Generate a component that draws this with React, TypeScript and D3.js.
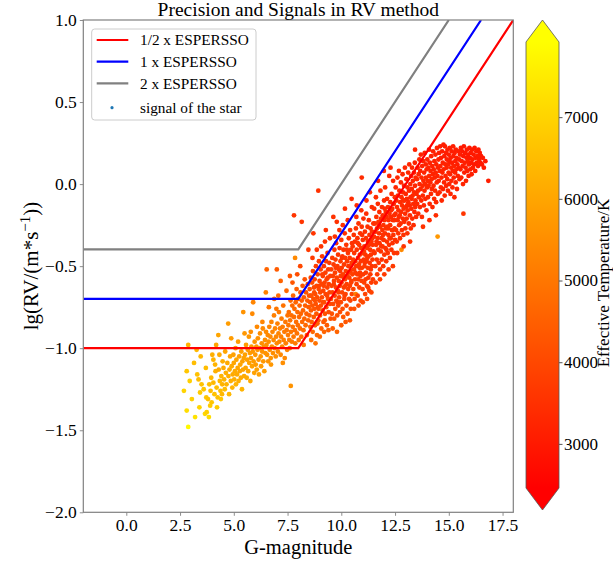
import { useEffect, useRef } from 'react';
import * as d3 from 'd3';

// [G magnitude, lg RV, effective temperature]
type Star = [number, number, number];
type Pt = [number, number];

const starsMag3: Star[] = [
  [2.68, -1.26, 7000], [2.81, -1.38, 7200], [2.88, -1.48, 7800], [2.81, -1.14, 6700], [2.88, -0.98, 6300],
  [3.27, -1.01, 6400], [3.30, -1.16, 6600], [3.36, -1.19, 6500], [3.50, -1.22, 6600], [3.43, -1.27, 6800],
  [3.05, -1.31, 6900], [3.20, -1.42, 7300], [3.40, -1.36, 7000], [2.95, -1.20, 6900], [3.15, -1.09, 6500],
  [3.46, -1.05, 6400],
];

const starsMag4: Star[] = [
  [3.72, -1.30, 6700], [3.80, -1.31, 6600], [3.66, -1.40, 7100], [3.74, -1.39, 6900], [3.90, -1.35, 6800],
  [3.97, -1.33, 6700], [4.00, -1.04, 6200], [4.05, -1.07, 6300], [4.13, -1.10, 6300], [4.28, -0.92, 6000],
  [4.35, -1.20, 6400], [4.42, -1.17, 6300], [4.48, -1.08, 6200], [4.20, -1.24, 6500], [4.10, -1.28, 6600],
  [3.86, -1.22, 6500], [3.95, -1.18, 6400], [4.25, -1.30, 6600], [4.38, -1.26, 6500], [4.46, -1.22, 6300],
  [3.60, -1.25, 6700], [3.70, -1.12, 6500], [4.15, -1.14, 6200], [4.30, -1.13, 6100], [4.05, -1.21, 6400],
  [4.40, -1.31, 6700], [3.84, -1.42, 7200], [4.22, -1.36, 6800], [4.33, -1.04, 6100], [4.18, -0.98, 6000],
  [4.45, -1.28, 6400], [3.92, -1.26, 6500],
];

const starsMag5: Star[] = [
  [4.52, -1.12, 6100], [4.55, -1.19, 6300], [4.58, -1.25, 6500], [4.60, -1.02, 6000], [4.63, -1.15, 6200],
  [4.66, -1.22, 6300], [4.70, -1.09, 6100], [4.74, -0.85, 5800], [4.75, -1.17, 6200], [4.78, -1.28, 6400],
  [4.80, -1.13, 6100], [4.83, -1.05, 6000], [4.86, -1.20, 6200], [4.88, -0.94, 5800], [4.90, -1.11, 6100],
  [4.93, -1.24, 6300], [4.95, -1.16, 6100], [4.98, -1.04, 5900], [5.00, -1.09, 6000], [5.02, -1.19, 6200],
  [5.05, -1.14, 6100], [5.08, -1.00, 5900], [5.10, -1.22, 6300], [5.12, -1.07, 6000], [5.15, -1.16, 6100],
  [5.18, -1.12, 6000], [5.20, -0.96, 5800], [5.22, -1.20, 6200], [5.25, -1.05, 5900], [5.28, -1.14, 6000],
  [5.30, -1.10, 6000], [5.33, -1.18, 6100], [5.35, -1.02, 5900], [5.38, -1.25, 6300], [5.40, -1.08, 5900],
  [5.43, -1.13, 6000], [5.44, -0.78, 5600], [5.46, -1.06, 5900], [5.48, -1.17, 6100], [5.50, -0.91, 5700],
];

const starsMag6: Star[] = [
  [5.52, -1.04, 5900], [5.55, -1.12, 6000], [5.57, -0.98, 5800], [5.60, -1.18, 6100], [5.62, -1.07, 5900],
  [5.65, -1.01, 5800], [5.67, -1.14, 6000], [5.70, -0.93, 5700], [5.72, -1.09, 5900], [5.75, -1.03, 5800],
  [5.77, -1.20, 6100], [5.80, -1.06, 5800], [5.82, -0.99, 5700], [5.85, -1.11, 5900], [5.86, -0.79, 5400],
  [5.88, -1.02, 5700], [5.90, -0.72, 5300], [5.92, -1.08, 5800], [5.95, -1.15, 5900], [5.97, -0.96, 5600],
  [6.00, -1.04, 5700], [6.02, -1.10, 5800], [6.05, -0.99, 5600], [6.07, -1.13, 5900], [6.10, -1.01, 5700],
  [6.12, -0.94, 5600], [6.15, -1.07, 5700], [6.17, -1.16, 5900], [6.20, -1.00, 5600], [6.22, -0.91, 5500],
  [6.25, -1.05, 5700], [6.27, -1.11, 5800], [6.30, -0.97, 5500], [6.32, -1.02, 5600], [6.35, -0.88, 5400],
  [6.37, -1.08, 5700], [6.40, -0.99, 5500], [6.42, -1.14, 5800], [6.45, -0.95, 5500], [6.47, -1.03, 5600],
  [6.49, -0.66, 5200], [6.50, -0.90, 5400], [6.33, -0.84, 5300], [6.08, -0.87, 5400], [5.79, -0.90, 5500],
];

const starsMag7: Star[] = [
  [6.52, -0.98, 5500], [6.53, -0.52, 4600], [6.55, -1.04, 5600], [6.58, -0.92, 5400], [6.60, -1.08, 5600],
  [6.62, -0.96, 5500], [6.65, -0.87, 5300], [6.67, -1.01, 5500], [6.70, -0.93, 5400], [6.72, -1.06, 5600],
  [6.75, -0.84, 5300], [6.77, -0.99, 5400], [6.80, -0.90, 5300], [6.82, -1.03, 5500], [6.85, -0.95, 5400],
  [6.87, -0.80, 5200], [6.90, -1.00, 5400], [6.92, -0.88, 5300], [6.95, -1.05, 5500], [6.97, -0.93, 5300],
  [7.00, -0.52, 4400], [7.00, -0.97, 5400], [7.03, -0.85, 5200], [7.05, -1.02, 5400], [7.08, -0.91, 5300],
  [7.10, -0.78, 5100], [7.12, -0.96, 5300], [7.15, -0.88, 5200], [7.18, -0.59, 4600], [7.18, -1.04, 5400],
  [7.20, -0.93, 5200], [7.22, -0.82, 5100], [7.25, -0.99, 5300], [7.27, -0.87, 5100], [7.30, -0.74, 4900],
  [7.32, -0.95, 5200], [7.35, -0.90, 5100], [7.37, -1.06, 5400], [7.40, -0.84, 5000], [7.42, -0.97, 5200],
  [7.45, -0.65, 4700], [7.46, -0.89, 5000], [7.48, -1.01, 5300], [7.50, -0.80, 4900], [6.63, -0.75, 5000],
  [6.88, -0.70, 4900], [7.07, -0.68, 4800], [6.73, -1.10, 5700], [7.28, -1.09, 5500], [6.98, -0.76, 5000],
];

const starsMag8: Star[] = [
  [7.52, -0.92, 5100], [7.54, -0.86, 5000], [7.56, -0.78, 4800], [7.58, -0.95, 5100], [7.61, -0.56, 4300],
  [7.62, -0.83, 4900], [7.64, -0.71, 4700], [7.65, -1.23, 5600], [7.66, -0.90, 5000], [7.68, -0.80, 4800],
  [7.70, -0.96, 5100], [7.72, -0.74, 4700], [7.74, -0.87, 4900], [7.76, -0.68, 4600], [7.78, -0.93, 5000],
  [7.80, -0.19, 3600], [7.80, -0.81, 4800], [7.82, -0.76, 4700], [7.84, -0.89, 4900], [7.85, -0.45, 5400],
  [7.86, -0.97, 5100], [7.88, -0.72, 4600], [7.90, -0.84, 4800], [7.92, -0.64, 4500], [7.94, -0.91, 4900],
  [7.96, -0.78, 4700], [7.98, -0.86, 4800], [8.00, -0.70, 4600], [8.02, -0.95, 5000], [8.04, -0.81, 4700],
  [8.06, -0.74, 4600], [8.08, -0.88, 4800], [8.10, -0.66, 4400], [8.12, -0.79, 4600], [8.14, -0.93, 4900],
  [8.16, -0.23, 3600], [8.16, -0.71, 4500], [8.18, -0.84, 4700], [8.20, -0.62, 4300], [8.22, -0.77, 4600],
  [8.24, -0.89, 4800], [8.26, -0.69, 4400], [8.28, -0.82, 4600], [8.30, -0.58, 4200], [8.32, -0.74, 4500],
  [8.34, -0.86, 4700], [8.36, -0.66, 4300], [8.38, -0.79, 4500], [8.40, -0.92, 4800], [8.42, -0.71, 4400],
  [8.44, -0.61, 4200], [8.46, -0.83, 4600], [8.47, -0.40, 3700], [8.48, -0.75, 4400], [8.50, -0.68, 4300],
  [7.73, -0.60, 4300], [7.95, -0.55, 4100], [8.09, -0.50, 4000], [7.60, -1.00, 5200], [8.25, -0.98, 5000],
];

const starsMag9: Star[] = [
  [8.52, -0.80, 4500], [8.53, -0.64, 4200], [8.55, -0.72, 4300], [8.56, -0.87, 4600], [8.58, -0.57, 4000],
  [8.59, -0.77, 4400], [8.61, -0.68, 4200], [8.62, -0.84, 4500], [8.64, -0.60, 4100], [8.65, -0.74, 4300],
  [8.67, -0.90, 4700], [8.68, -0.53, 3900], [8.70, -0.30, 3600], [8.70, -0.70, 4200], [8.72, -0.81, 4400],
  [8.73, -0.63, 4000], [8.75, -0.76, 4300], [8.76, -0.58, 3900], [8.78, -0.86, 4500], [8.79, -0.67, 4100],
  [8.81, -0.73, 4200], [8.82, -0.50, 3800], [8.84, -0.79, 4300], [8.85, -0.62, 4000], [8.87, -0.92, 4700],
  [8.88, -0.69, 4100], [8.90, -0.55, 3900], [8.91, -0.75, 4200], [8.93, -0.04, 3500], [8.93, -0.83, 4400],
  [8.95, -0.64, 4000], [8.96, -0.47, 3800], [8.98, -0.71, 4100], [8.99, -0.59, 3900], [9.01, -0.80, 4300],
  [9.02, -0.66, 4000], [9.04, -0.52, 3800], [9.05, -0.74, 4100], [9.07, -0.88, 4500], [9.08, -0.61, 3900],
  [9.10, -0.69, 4000], [9.11, -0.44, 3700], [9.13, -0.77, 4200], [9.14, -0.56, 3800], [9.16, -0.65, 3900],
  [9.17, -0.84, 4300], [9.19, -0.50, 3700], [9.20, -0.72, 4100], [9.22, -0.60, 3900], [9.24, -0.35, 3600],
  [9.24, -0.79, 4200], [9.26, -0.54, 3800], [9.27, -0.67, 3900], [9.29, -0.47, 3700], [9.30, -0.75, 4100],
  [9.32, -0.58, 3800], [9.33, -0.86, 4400], [9.35, -0.63, 3900], [9.36, -0.42, 3600], [9.38, -0.70, 4000],
  [9.39, -0.52, 3700], [9.41, -0.78, 4100], [9.42, -0.61, 3800], [9.44, -0.48, 3700], [9.45, -0.66, 3900],
  [9.47, -0.33, 3600], [9.47, -0.73, 4000], [9.49, -0.56, 3800], [9.50, -0.82, 4200], [8.60, -0.95, 4800],
  [8.80, -0.97, 4900], [9.00, -0.93, 4700], [9.20, -0.90, 4600], [9.40, -0.89, 4500], [8.66, -0.45, 3700],
  [8.86, -0.40, 3600], [9.06, -0.38, 3600], [9.28, -0.28, 3500], [8.74, -0.66, 4100], [8.94, -0.76, 4200],
  [9.15, -0.72, 4100], [9.34, -0.68, 3900], [8.57, -0.68, 4200], [8.77, -0.71, 4200], [8.97, -0.62, 3900],
  [9.18, -0.62, 3900], [9.37, -0.57, 3800], [9.12, -0.55, 3800], [8.89, -0.85, 4500], [9.23, -0.83, 4400],
];

const starsMag10: Star[] = [
  [9.52, -0.70, 4100], [9.53, -0.52, 3800], [9.55, -0.62, 3900], [9.56, -0.79, 4200], [9.58, -0.45, 3700],
  [9.59, -0.66, 3900], [9.61, -0.56, 3800], [9.62, -0.73, 4000], [9.63, -0.20, 3500], [9.64, -0.49, 3700],
  [9.65, -0.61, 3800], [9.67, -0.82, 4300], [9.68, -0.40, 3600], [9.69, -0.68, 3900], [9.71, -0.54, 3800],
  [9.72, -0.76, 4100], [9.73, -0.46, 3700], [9.75, -0.63, 3800], [9.76, -0.36, 3600], [9.77, -0.71, 4000],
  [9.79, -0.23, 3500], [9.79, -0.57, 3800], [9.81, -0.80, 4200], [9.82, -0.50, 3700], [9.84, -0.65, 3900],
  [9.85, -0.43, 3600], [9.86, -0.74, 4000], [9.88, -0.59, 3800], [9.89, -0.52, 3700], [9.90, -0.69, 3900],
  [9.92, -0.39, 3600], [9.93, -0.62, 3800], [9.94, -0.78, 4100], [9.96, -0.47, 3700], [9.97, -0.56, 3800],
  [9.98, -0.72, 4000], [10.00, -0.34, 3600], [10.01, -0.60, 3800], [10.02, -0.51, 3700], [10.04, -0.66, 3900],
  [10.05, -0.44, 3600], [10.06, -0.76, 4100], [10.08, -0.55, 3800], [10.09, -0.81, 4300], [10.10, -0.40, 3600],
  [10.12, -0.63, 3800], [10.13, -0.49, 3700], [10.14, -0.70, 3900], [10.16, -0.30, 3500], [10.17, -0.15, 3400],
  [10.17, -0.58, 3800], [10.18, -0.45, 3700], [10.20, -0.67, 3900], [10.21, -0.53, 3700], [10.23, -0.37, 3600],
  [10.24, -0.74, 4000], [10.25, -0.61, 3800], [10.27, -0.47, 3700], [10.28, -0.56, 3700], [10.29, -0.79, 4200],
  [10.31, -0.42, 3600], [10.32, -0.64, 3800], [10.33, -0.50, 3700], [10.35, -0.33, 3500], [10.36, -0.70, 3900],
  [10.37, -0.57, 3700], [10.39, -0.45, 3600], [10.40, -0.62, 3800], [10.41, -0.28, 3500], [10.43, -0.53, 3700],
  [10.44, -0.76, 4100], [10.45, -0.40, 3600], [10.47, -0.59, 3800], [10.48, -0.09, 3400], [10.48, -0.48, 3700],
  [10.49, -0.67, 3900], [10.50, -0.36, 3500], [9.60, -0.88, 4500], [9.80, -0.90, 4600], [10.00, -0.86, 4400],
  [10.20, -0.84, 4300], [10.40, -0.83, 4300], [9.66, -0.59, 3800], [9.74, -0.51, 3700], [9.87, -0.66, 3800],
  [9.95, -0.53, 3700], [10.03, -0.45, 3600], [10.11, -0.57, 3700], [10.19, -0.62, 3800], [10.26, -0.40, 3600],
  [10.34, -0.54, 3700], [10.42, -0.71, 3900], [10.46, -0.60, 3800], [9.70, -0.32, 3500], [9.91, -0.28, 3500],
  [10.07, -0.25, 3500], [10.30, -0.22, 3500], [9.83, -0.72, 3900], [10.15, -0.68, 3800], [10.38, -0.50, 3600],
];

const starsMag11: Star[] = [
  [10.52, -0.55, 3800], [10.53, -0.38, 3600], [10.55, -0.46, 3700], [10.56, -0.64, 3900], [10.58, -0.31, 3500],
  [10.59, -0.52, 3700], [10.60, -0.42, 3600], [10.62, -0.70, 4000], [10.63, -0.35, 3500], [10.64, -0.58, 3800],
  [10.65, -0.47, 3700], [10.67, -0.67, 5200], [10.68, -0.27, 3500], [10.69, -0.50, 3700], [10.71, -0.61, 3800],
  [10.72, -0.13, 3400], [10.72, -0.40, 3600], [10.74, -0.55, 3700], [10.75, -0.33, 3500], [10.76, -0.68, 3900],
  [10.78, -0.45, 3600], [10.79, -0.58, 3800], [10.80, -0.24, 3500], [10.82, -0.49, 3700], [10.83, -0.37, 3600],
  [10.84, -0.63, 3800], [10.86, -0.43, 3600], [10.87, -0.54, 3700], [10.88, -0.30, 3500], [10.90, -0.71, 4000],
  [10.91, -0.47, 3600], [10.92, -0.39, 3600], [10.94, -0.59, 3800], [10.95, 0.04, 3400], [10.95, -0.26, 3500],
  [10.96, -0.51, 3700], [10.98, -0.42, 3600], [10.99, -0.64, 3800], [11.00, -0.34, 3500], [11.02, -0.55, 3700],
  [11.03, -0.21, 3400], [11.04, -0.46, 3600], [11.06, -0.60, 3800], [11.07, -0.38, 3500], [11.08, -0.50, 3700],
  [11.10, -0.29, 3500], [11.11, -0.67, 3900], [11.12, -0.43, 3600], [11.14, -0.54, 3700], [11.15, -0.33, 3500],
  [11.16, -0.18, 3400], [11.18, -0.47, 3600], [11.19, -0.62, 3800], [11.20, -0.39, 3600], [11.22, -0.26, 3500],
  [11.23, -0.51, 3700], [11.24, -0.35, 3500], [11.26, -0.57, 3700], [11.27, -0.44, 3600], [11.28, -0.22, 3400],
  [11.30, -0.65, 3800], [11.31, -0.31, 3500], [11.32, -0.48, 3600], [11.34, -0.40, 3600], [11.35, -0.55, 3700],
  [11.36, -0.27, 3500], [11.38, -0.43, 3600], [11.39, -0.60, 3700], [11.40, -0.35, 3500], [11.42, -0.14, 3400],
  [11.42, -0.50, 3600], [11.43, -0.29, 3500], [11.45, -0.46, 3600], [11.46, -0.37, 3500], [11.47, -0.58, 3700],
  [11.49, -0.24, 3500], [11.50, -0.41, 3600], [10.60, -0.76, 4200], [10.80, -0.74, 4100], [11.00, -0.72, 4000],
  [11.20, -0.70, 4000], [11.40, -0.66, 3900], [10.66, -0.54, 3700], [10.77, -0.36, 3600], [10.85, -0.51, 3700],
  [10.97, -0.31, 3500], [11.05, -0.41, 3600], [11.13, -0.58, 3700], [11.21, -0.45, 3600], [11.29, -0.37, 3500],
  [11.37, -0.52, 3600], [11.44, -0.33, 3500], [10.70, -0.20, 3400], [10.93, -0.16, 3400], [11.17, -0.10, 3400],
  [11.33, -0.05, 3400], [10.89, -0.56, 3700], [11.09, -0.48, 3600], [11.25, -0.63, 3700],
];

const starsMag12: Star[] = [
  [11.52, -0.32, 3500], [11.53, -0.15, 3400], [11.55, -0.42, 3600], [11.56, -0.24, 3500], [11.58, -0.50, 3700],
  [11.59, -0.29, 3500], [11.61, -0.08, 3400], [11.62, -0.37, 3600], [11.63, -0.20, 3500], [11.65, -0.46, 3600],
  [11.66, -0.27, 3500], [11.67, -0.55, 3700], [11.69, -0.33, 3500], [11.70, -0.12, 3400], [11.72, -0.40, 3600],
  [11.73, -0.23, 3500], [11.74, -0.48, 3600], [11.76, -0.30, 3500], [11.77, -0.17, 3400], [11.78, -0.36, 3500],
  [11.80, -0.52, 3700], [11.81, -0.26, 3500], [11.82, -0.04, 3400], [11.84, -0.41, 3600], [11.85, -0.21, 3400],
  [11.87, -0.33, 3500], [11.88, -0.46, 3600], [11.89, -0.14, 3400], [11.91, -0.28, 3500], [11.92, -0.38, 3500],
  [11.93, -0.19, 3400], [11.95, -0.50, 3600], [11.96, -0.25, 3500], [11.97, -0.34, 3500], [11.99, -0.10, 3400],
  [12.00, -0.43, 3600], [12.01, -0.22, 3400], [12.03, -0.30, 3500], [12.04, -0.02, 3400], [12.05, -0.39, 3500],
  [12.07, -0.17, 3400], [12.08, -0.27, 3500], [12.09, -0.47, 3600], [12.11, -0.20, 3400], [12.12, -0.35, 3500],
  [12.13, -0.09, 3400], [12.15, -0.26, 3500], [12.16, -0.42, 3600], [12.17, -0.14, 3400], [12.19, -0.31, 3500],
  [12.20, -0.22, 3400], [12.22, -0.37, 3500], [12.23, 0.05, 3300], [12.24, -0.18, 3400], [12.26, -0.45, 3600],
  [12.27, -0.25, 3500], [12.28, -0.11, 3400], [12.30, -0.33, 3500], [12.31, -0.20, 3400], [12.33, -0.40, 3500],
  [12.34, -0.06, 3400], [12.35, -0.28, 3500], [12.37, -0.15, 3400], [12.38, -0.36, 3500], [12.40, -0.22, 3400],
  [12.41, 0.02, 3300], [12.42, -0.31, 3500], [12.44, -0.12, 3400], [12.45, -0.42, 3600], [12.46, -0.19, 3400],
  [12.48, -0.27, 3500], [12.49, -0.08, 3400], [12.50, -0.34, 3500], [11.60, -0.60, 3800], [11.80, -0.58, 3800],
  [12.00, -0.55, 3700], [12.20, -0.52, 3700], [12.40, -0.50, 3700], [11.64, -0.35, 3500], [11.75, -0.25, 3500],
  [11.86, -0.38, 3500], [11.94, -0.31, 3500], [12.02, -0.15, 3400], [12.10, -0.40, 3500], [12.18, -0.27, 3500],
  [12.25, -0.33, 3500], [12.32, -0.16, 3400], [12.39, -0.28, 3500], [12.47, -0.22, 3400], [11.71, 0.02, 3300],
  [11.98, 0.08, 3300], [12.29, 0.10, 3300],
];

const starsMag13: Star[] = [
  [12.52, -0.18, 3400], [12.53, -0.02, 3300], [12.55, -0.28, 3500], [12.56, -0.10, 3400], [12.58, -0.35, 3500],
  [12.59, -0.14, 3400], [12.61, 0.04, 3300], [12.62, -0.22, 3400], [12.63, -0.07, 3400], [12.65, -0.30, 3500],
  [12.66, -0.16, 3400], [12.68, 0.08, 3300], [12.69, -0.25, 3400], [12.70, -0.04, 3300], [12.72, -0.19, 3400],
  [12.73, -0.33, 3500], [12.74, -0.11, 3400], [12.76, -0.24, 3400], [12.77, 0.01, 3300], [12.78, -0.17, 3400],
  [12.80, -0.40, 5400], [12.80, -0.08, 3400], [12.82, -0.28, 3400], [12.83, -0.13, 3400], [12.85, 0.06, 3300],
  [12.86, -0.21, 3400], [12.87, -0.05, 3300], [12.89, -0.31, 3500], [12.90, -0.15, 3400], [12.92, -0.01, 3300],
  [12.93, -0.23, 3400], [12.94, -0.10, 3400], [12.96, 0.10, 3300], [12.97, -0.18, 3400], [12.98, -0.27, 3400],
  [13.00, -0.06, 3300], [13.01, -0.14, 3400], [13.03, 0.03, 3300], [13.04, -0.21, 3400], [13.05, -0.09, 3300],
  [13.07, -0.30, 3500], [13.08, -0.02, 3300], [13.09, -0.16, 3400], [13.11, 0.07, 3300], [13.12, -0.11, 3300],
  [13.14, -0.24, 3400], [13.15, -0.04, 3300], [13.16, 0.12, 3300], [13.18, -0.13, 3300], [13.19, -0.19, 3400],
  [13.21, 0.00, 3300], [13.22, -0.08, 3300], [13.23, -0.27, 3400], [13.25, 0.05, 3300], [13.26, -0.15, 3300],
  [13.28, -0.03, 3300], [13.29, 0.10, 3300], [13.30, -0.21, 3400], [13.32, -0.07, 3300], [13.33, 0.02, 3300],
  [13.35, -0.12, 3300], [13.36, -0.25, 3400], [13.38, 0.07, 3300], [13.39, -0.05, 3300], [13.40, -0.17, 3300],
  [13.42, 0.13, 3200], [13.43, 0.21, 3200], [13.43, -0.01, 3300], [13.45, -0.10, 3300], [13.46, 0.04, 3300],
  [13.48, -0.20, 3400], [13.50, -0.06, 3300], [12.60, -0.42, 3600], [12.90, -0.38, 3600], [13.20, -0.35, 3500],
  [12.67, -0.20, 3400], [12.88, -0.10, 3400], [13.06, -0.13, 3300], [13.27, -0.09, 3300], [13.44, -0.14, 3300],
];

const starsMag14: Star[] = [
  [13.52, 0.03, 3300], [13.53, -0.12, 3300], [13.55, 0.10, 3200], [13.57, -0.04, 3300], [13.58, -0.18, 3400],
  [13.60, 0.06, 3300], [13.61, -0.08, 3300], [13.63, 0.15, 3200], [13.64, 0.00, 3300], [13.66, -0.14, 3300],
  [13.67, 0.08, 3200], [13.69, -0.03, 3300], [13.70, 0.18, 3200], [13.72, -0.10, 3300], [13.73, 0.04, 3300],
  [13.75, -0.20, 3400], [13.76, 0.11, 3200], [13.78, -0.01, 3300], [13.79, -0.07, 3300], [13.81, 0.14, 3200],
  [13.82, 0.02, 3300], [13.84, -0.13, 3300], [13.85, 0.07, 3200], [13.87, -0.04, 3300], [13.88, 0.19, 3200],
  [13.90, 0.00, 3300], [13.91, -0.09, 3300], [13.93, 0.12, 3200], [13.94, 0.04, 3300], [13.96, -0.16, 3300],
  [13.97, 0.09, 3200], [13.99, -0.02, 3300], [14.00, 0.15, 3200], [14.02, 0.02, 3300], [14.03, -0.08, 3300],
  [14.05, 0.10, 3200], [14.06, -0.01, 3300], [14.08, 0.21, 3200], [14.09, 0.05, 3300], [14.11, -0.12, 3300],
  [14.12, 0.13, 3200], [14.14, 0.01, 3300], [14.15, 0.08, 3200], [14.17, -0.06, 3300], [14.18, 0.17, 3200],
  [14.20, 0.03, 3300], [14.21, -0.03, 3300], [14.23, 0.11, 3200], [14.24, -0.14, 3300], [14.26, 0.06, 3200],
  [14.27, 0.20, 3200], [14.29, -0.01, 3300], [14.30, 0.09, 3200], [14.32, -0.09, 3300], [14.33, 0.14, 3200],
  [14.35, 0.04, 3200], [14.36, -0.04, 3300], [14.38, 0.18, 3200], [14.39, 0.07, 3200], [14.41, -0.11, 3300],
  [14.42, 0.12, 3200], [14.44, 0.01, 3300], [14.45, 0.22, 3200], [14.47, 0.05, 3200], [14.48, -0.32, 5700],
  [14.49, -0.06, 3300], [14.50, 0.10, 3200], [13.80, -0.26, 3500], [14.10, -0.22, 3400], [14.40, -0.19, 3400],
];

const starsMag15: Star[] = [
  [14.52, 0.15, 3200], [14.53, 0.02, 3200], [14.55, 0.19, 3100], [14.57, -0.05, 3300], [14.58, 0.08, 3200],
  [14.60, 0.23, 3100], [14.61, 0.11, 3200], [14.63, -0.02, 3200], [14.64, 0.16, 3100], [14.66, 0.04, 3200],
  [14.67, -0.10, 3300], [14.69, 0.20, 3100], [14.70, 0.07, 3200], [14.72, 0.13, 3200], [14.73, -0.03, 3200],
  [14.75, 0.24, 3100], [14.76, 0.09, 3200], [14.78, 0.01, 3200], [14.79, 0.17, 3100], [14.81, -0.07, 3300],
  [14.82, 0.23, 3100], [14.84, 0.12, 3200], [14.85, 0.05, 3200], [14.87, 0.19, 3100], [14.88, -0.01, 3200],
  [14.90, 0.10, 3200], [14.91, 0.15, 3100], [14.93, 0.03, 3200], [14.94, 0.21, 3100], [14.96, -0.04, 3200],
  [14.97, 0.12, 3200], [14.99, 0.07, 3200], [15.00, 0.18, 3100], [15.02, 0.00, 3200], [15.03, 0.14, 3100],
  [15.05, 0.22, 3100], [15.06, 0.06, 3200], [15.08, -0.06, 3300], [15.09, 0.16, 3100], [15.11, 0.10, 3200],
  [15.12, 0.02, 3200], [15.14, 0.20, 3100], [15.15, 0.13, 3100], [15.17, -0.02, 3200], [15.18, 0.08, 3200],
  [15.20, 0.23, 3100], [15.21, 0.17, 3100], [15.23, 0.04, 3200], [15.24, 0.11, 3200], [15.26, -0.08, 3300],
  [15.27, 0.19, 3100], [15.29, 0.07, 3200], [15.30, 0.14, 3100], [15.32, 0.01, 3200], [15.33, 0.21, 3100],
  [15.35, 0.09, 3200], [15.36, 0.16, 3100], [15.38, -0.03, 3200], [15.40, 0.12, 3100], [15.42, 0.05, 3200],
  [15.44, 0.20, 3100], [15.46, 0.10, 3100], [15.48, 0.15, 3100], [15.50, 0.03, 3200],
];

const starsMag16: Star[] = [
  [15.52, 0.18, 3100], [15.54, 0.09, 3100], [15.56, 0.22, 3000], [15.58, 0.04, 3200], [15.60, 0.14, 3100],
  [15.62, 0.20, 3000], [15.64, 0.11, 3100], [15.66, 0.00, 3200], [15.68, -0.18, 3600], [15.68, 0.17, 3000],
  [15.70, 0.23, 3000], [15.72, 0.07, 3100], [15.74, 0.13, 3100], [15.76, 0.19, 3000], [15.78, 0.10, 3100],
  [15.80, 0.02, 3200], [15.82, 0.16, 3000], [15.84, 0.21, 3000], [15.86, 0.08, 3100], [15.88, 0.14, 3100],
  [15.90, 0.18, 3000], [15.92, 0.05, 3100], [15.94, 0.12, 3100], [15.96, 0.22, 3000], [15.98, 0.16, 3000],
  [16.00, 0.09, 3100], [16.02, 0.19, 3000], [16.04, 0.13, 3000], [16.06, 0.06, 3100], [16.08, 0.21, 3000],
  [16.10, 0.15, 3000], [16.12, 0.10, 3100], [16.15, 0.18, 3000], [16.18, 0.12, 3000], [16.20, 0.22, 3000],
  [16.23, 0.08, 3100], [16.25, 0.16, 3000], [16.28, 0.20, 3000], [16.30, 0.13, 3000], [16.33, 0.17, 3000],
  [16.36, 0.11, 3000], [16.38, 0.21, 3000], [16.41, 0.15, 3000], [16.44, 0.19, 3000], [16.47, 0.13, 3000],
  [16.50, 0.17, 3000], [16.54, 0.12, 3000], [16.58, 0.16, 3000], [16.63, 0.10, 3000], [16.84, 0.02, 3100],
  [16.70, 0.14, 3000],
];

const allStars: Star[] = [
  ...starsMag3, ...starsMag4, ...starsMag5, ...starsMag6, ...starsMag7, ...starsMag8, ...starsMag9,
  ...starsMag10, ...starsMag11, ...starsMag12, ...starsMag13, ...starsMag14, ...starsMag15, ...starsMag16,
];

// precision limits: [G magnitude, lg RV]
const halfEspresso: Pt[] = [[-2, -1.0], [8, -1.0], [18, 1.0]];
const oneEspresso: Pt[] = [[-2, -0.699], [8, -0.699], [16.5, 1.0]];
const twoEspresso: Pt[] = [[-2, -0.398], [8, -0.398], [15, 1.0]];

const curveLabels = ['1/2 x ESPERSSO', '1 x ESPERSSO', '2 x ESPERSSO'];
const curveColors = ['#ff0000', '#0000ff', '#808080'];
const curves = [halfEspresso, oneEspresso, twoEspresso];
const starLabel = 'signal of the star';

const xTicks = [0, 2.5, 5, 7.5, 10, 12.5, 15, 17.5];
const yTicks = [-2, -1.5, -1, -0.5, 0, 0.5, 1];
const tempTicks = [3000, 4000, 5000, 6000, 7000];
const xDomain = [-2, 18];
const yDomain = [-2, 1];
const tempDomain = [2460, 7920];

const W = 613;
const H = 561;
const M = { left: 83.3, right: 513.3, top: 20, bottom: 512.3 };
const FONT = "'Liberation Serif', 'Times New Roman', 'DejaVu Serif', serif";

function RvChart() {
  const ref = useRef<SVGSVGElement>(null);

  useEffect(() => {
    const svg = d3.select(ref.current).attr('width', W).attr('height', H);
    svg.selectAll('*').remove();

    const x = d3.scaleLinear().domain(xDomain).range([M.left, M.right]);
    const y = d3.scaleLinear().domain(yDomain).range([M.bottom, M.top]);
    const temp = d3
      .scaleLinear<string>()
      .domain(tempDomain)
      .range(['#ff0000', '#ffff00'])
      .clamp(true);

    const defs = svg.append('defs');
    defs
      .append('clipPath')
      .attr('id', 'plot-clip')
      .append('rect')
      .attr('x', M.left)
      .attr('y', M.top)
      .attr('width', M.right - M.left)
      .attr('height', M.bottom - M.top);
    const grad = defs
      .append('linearGradient')
      .attr('id', 'autumn')
      .attr('x1', 0)
      .attr('y1', 1)
      .attr('x2', 0)
      .attr('y2', 0);
    grad.append('stop').attr('offset', 0).attr('stop-color', '#ff0000');
    grad.append('stop').attr('offset', 1).attr('stop-color', '#ffff00');

    const plot = svg.append('g').attr('clip-path', 'url(#plot-clip)');

    plot
      .selectAll('circle')
      .data(allStars)
      .join('circle')
      .attr('cx', d => x(d[0]))
      .attr('cy', d => y(d[1]))
      .attr('r', 2.4)
      .attr('fill', d => temp(d[2]));

    const line = d3
      .line<Pt>()
      .x(d => x(d[0]))
      .y(d => y(d[1]));

    plot
      .selectAll('path.curve')
      .data(curves)
      .join('path')
      .attr('class', 'curve')
      .attr('d', d => line(d))
      .attr('fill', 'none')
      .attr('stroke', (_, i) => curveColors[i])
      .attr('stroke-width', 2.2);

    // axes
    const fmt = d3.format('.1f');
    const xAxis = svg
      .append('g')
      .attr('transform', `translate(0,${M.bottom})`)
      .call(d3.axisBottom(x).tickValues(xTicks).tickFormat(d => fmt(d as number)).tickSizeOuter(0).tickSizeInner(3.5).tickPadding(2.5));
    const yAxis = svg
      .append('g')
      .attr('transform', `translate(${M.left},0)`)
      .call(d3.axisLeft(y).tickValues(yTicks).tickFormat(d => fmt(d as number)).tickSizeOuter(0).tickSizeInner(3.5).tickPadding(3));

    [xAxis, yAxis].forEach(ax => {
      ax.select('.domain').remove();
      ax.selectAll('line').attr('stroke', '#808080').attr('stroke-width', 0.9);
      ax.selectAll('text')
        .attr('fill', '#000')
        .style('font-family', FONT)
        .style('font-size', '17.5px');
    });

    svg
      .append('rect')
      .attr('x', M.left)
      .attr('y', M.top)
      .attr('width', M.right - M.left)
      .attr('height', M.bottom - M.top)
      .attr('fill', 'none')
      .attr('stroke', '#808080')
      .attr('stroke-width', 1.2);

    // titles
    svg
      .append('text')
      .attr('x', (M.left + M.right) / 2)
      .attr('y', 16)
      .attr('text-anchor', 'middle')
      .style('font-family', FONT)
      .style('font-size', '19.5px')
      .text('Precision and Signals in RV method');

    svg
      .append('text')
      .attr('x', (M.left + M.right) / 2)
      .attr('y', 554)
      .attr('text-anchor', 'middle')
      .style('font-family', FONT)
      .style('font-size', '20.5px')
      .text('G-magnitude');

    const yLabel = svg
      .append('text')
      .attr('transform', `translate(38,266) rotate(-90)`)
      .attr('text-anchor', 'middle')
      .style('font-family', FONT)
      .style('font-size', '21px');
    yLabel.append('tspan').text('lg(RV/(m*s');
    yLabel.append('tspan').attr('dy', -8).style('font-size', '15px').text('\u22121');
    yLabel.append('tspan').attr('dy', 8).text('))');

    // legend
    const lg = svg.append('g');
    lg.append('rect')
      .attr('x', 91.7)
      .attr('y', 29)
      .attr('width', 164.3)
      .attr('height', 91)
      .attr('rx', 3)
      .attr('fill', '#fff')
      .attr('fill-opacity', 0.8)
      .attr('stroke', '#cccccc');
    const rowY = [40, 61.7, 83.3, 107.7];
    curveLabels.forEach((label, i) => {
      lg.append('line')
        .attr('x1', 96.7)
        .attr('x2', 128.3)
        .attr('y1', rowY[i])
        .attr('y2', rowY[i])
        .attr('stroke', curveColors[i])
        .attr('stroke-width', 2.2);
      lg.append('text')
        .attr('x', 140)
        .attr('y', rowY[i])
        .attr('dy', '0.35em')
        .style('font-family', FONT)
        .style('font-size', '15.3px')
        .text(label);
    });
    lg.append('circle').attr('cx', 112).attr('cy', rowY[3]).attr('r', 1.6).attr('fill', '#1f77b4');
    lg.append('text')
      .attr('x', 140)
      .attr('y', rowY[3])
      .attr('dy', '0.35em')
      .style('font-family', FONT)
      .style('font-size', '15.3px')
      .text(starLabel);

    // colorbar
    const cbL = 526;
    const cbR = 559;
    const cbTop = 20;
    const cbBot = 510;
    const tri = 22;
    const t = d3.scaleLinear().domain(tempDomain).range([cbBot - tri, cbTop + tri]);
    const cb = svg.append('g');
    cb.append('rect')
      .attr('x', cbL)
      .attr('y', cbTop + tri)
      .attr('width', cbR - cbL)
      .attr('height', cbBot - cbTop - 2 * tri)
      .attr('fill', 'url(#autumn)');
    cb.append('path')
      .attr('d', `M${cbL},${cbTop + tri}L${(cbL + cbR) / 2},${cbTop}L${cbR},${cbTop + tri}Z`)
      .attr('fill', temp(tempDomain[1]));
    cb.append('path')
      .attr('d', `M${cbL},${cbBot - tri}L${(cbL + cbR) / 2},${cbBot}L${cbR},${cbBot - tri}Z`)
      .attr('fill', temp(tempDomain[0]));
    cb.append('path')
      .attr(
        'd',
        `M${cbL},${cbBot - tri}L${cbL},${cbTop + tri}L${(cbL + cbR) / 2},${cbTop}L${cbR},${cbTop + tri}` +
          `L${cbR},${cbBot - tri}L${(cbL + cbR) / 2},${cbBot}Z`
      )
      .attr('fill', 'none')
      .attr('stroke', '#555')
      .attr('stroke-width', 0.8);

    const cAxis = svg
      .append('g')
      .attr('transform', `translate(${cbR},0)`)
      .call(d3.axisRight(t).tickValues(tempTicks).tickFormat(d => String(d)).tickSizeOuter(0).tickSizeInner(3.5).tickPadding(1.5));
    cAxis.select('.domain').remove();
    cAxis.selectAll('line').attr('stroke', '#555');
    cAxis.selectAll('text')
      .attr('fill', '#000')
      .style('font-family', FONT)
      .style('font-size', '17px');

    svg
      .append('text')
      .attr('transform', 'translate(609,283) rotate(-90)')
      .attr('text-anchor', 'middle')
      .style('font-family', FONT)
      .style('font-size', '17px')
      .text('Effective Temperature/K');

    return () => {
      svg.selectAll('*').remove();
    };
  }, []);

  return (
    <svg
      ref={ref}
      style={{ position: 'absolute', left: 0, top: 0, background: '#fff' }}
      role="img"
      aria-label="Precision and Signals in RV method"
    />
  );
}

export default function App() {
  return <RvChart />;
}
